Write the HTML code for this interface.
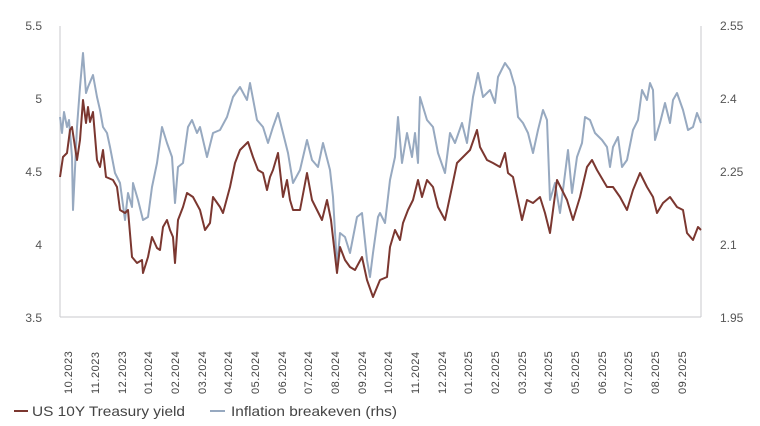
<!DOCTYPE html>
<html><head><meta charset="utf-8"><style>
html,body{margin:0;padding:0;background:#fff;}
svg{display:block;font-family:"Liberation Sans",sans-serif;}
</style></head><body>
<svg width="760" height="426" viewBox="0 0 760 426">
<g stroke="#c8cacd" stroke-width="1" fill="none">
<line x1="60" y1="26" x2="60" y2="317"/>
<line x1="60" y1="317" x2="701" y2="317"/>
<line x1="701" y1="26" x2="701" y2="317"/>
</g>
<g font-size="12" fill="#555" text-anchor="end">
<text x="42" y="30">5.5</text><text x="42" y="103">5</text><text x="42" y="176">4.5</text><text x="42" y="249">4</text><text x="42" y="322">3.5</text>
</g>
<g font-size="12" fill="#555" text-anchor="start">
<text x="720" y="30">2.55</text><text x="720" y="103">2.4</text><text x="720" y="176">2.25</text><text x="720" y="249">2.1</text><text x="720" y="322">1.95</text>
</g>
<g font-size="11" fill="#444" text-anchor="start" letter-spacing="0.5">
<text transform="translate(72,394) rotate(-90)">10.2023</text>
<text transform="translate(99,394) rotate(-90)">11.2023</text>
<text transform="translate(126,394) rotate(-90)">12.2023</text>
<text transform="translate(152,394) rotate(-90)">01.2024</text>
<text transform="translate(179,394) rotate(-90)">02.2024</text>
<text transform="translate(206,394) rotate(-90)">03.2024</text>
<text transform="translate(232,394) rotate(-90)">04.2024</text>
<text transform="translate(259,394) rotate(-90)">05.2024</text>
<text transform="translate(286,394) rotate(-90)">06.2024</text>
<text transform="translate(312,394) rotate(-90)">07.2024</text>
<text transform="translate(339,394) rotate(-90)">08.2024</text>
<text transform="translate(366,394) rotate(-90)">09.2024</text>
<text transform="translate(392,394) rotate(-90)">10.2024</text>
<text transform="translate(419,394) rotate(-90)">11.2024</text>
<text transform="translate(446,394) rotate(-90)">12.2024</text>
<text transform="translate(472,394) rotate(-90)">01.2025</text>
<text transform="translate(499,394) rotate(-90)">02.2025</text>
<text transform="translate(526,394) rotate(-90)">03.2025</text>
<text transform="translate(552,394) rotate(-90)">04.2025</text>
<text transform="translate(579,394) rotate(-90)">05.2025</text>
<text transform="translate(606,394) rotate(-90)">06.2025</text>
<text transform="translate(632,394) rotate(-90)">07.2025</text>
<text transform="translate(659,394) rotate(-90)">08.2025</text>
<text transform="translate(686,394) rotate(-90)">09.2025</text>
</g>
<polyline fill="none" stroke="#97a9c0" stroke-width="2" stroke-linejoin="round" points="60,117 62,133 64,112 67,127 69,120 72,157 73,210 77,127 80,87 83,53 86,93 88,87 93,75 97,97 100,110 103,127 107,133 110,147 115,173 120,183 125,220 128,193 132,207 133,183 138,200 143,220 148,217 152,187 157,163 162,127 167,143 172,157 175,203 178,167 183,163 188,127 192,120 197,133 200,127 207,157 213,133 220,130 227,117 233,97 240,87 247,100 250,83 257,120 263,127 268,143 273,127 278,113 283,133 288,153 293,183 300,170 307,140 312,160 318,167 323,143 330,170 333,197 337,267 340,233 345,237 350,253 357,217 362,213 367,260 370,277 373,253 378,217 380,213 385,223 390,180 395,157 398,117 402,163 407,133 412,157 415,133 418,163 420,97 427,120 433,127 438,153 445,173 450,133 455,143 462,123 467,143 473,97 478,73 483,97 490,90 495,103 498,77 505,63 510,70 515,87 518,117 523,123 528,133 533,153 538,130 543,110 547,120 550,200 555,183 560,213 563,190 568,150 572,193 577,157 582,143 585,117 590,120 595,133 602,140 607,147 610,167 613,147 618,137 622,167 627,160 633,130 638,120 642,90 647,100 650,83 653,90 655,140 660,123 665,103 670,123 673,100 677,93 683,110 688,130 693,127 697,113 701,123"/>
<polyline fill="none" stroke="#7b3730" stroke-width="2" stroke-linejoin="round" points="60,177 63,157 67,153 70,130 72,127 75,147 77,160 80,140 83,100 86,123 88,107 90,122 93,112 97,160 100,167 103,150 106,177 113,180 117,187 120,210 125,213 128,210 132,257 137,263 142,260 143,273 148,257 152,237 157,248 160,250 163,227 167,220 170,230 173,237 175,263 178,220 183,207 187,193 193,197 200,210 205,230 210,223 213,197 220,207 223,213 230,187 235,163 240,150 248,142 253,157 258,170 263,173 267,190 270,177 273,170 278,153 283,197 287,180 290,200 293,210 300,210 307,173 312,200 317,210 322,220 327,200 331,220 337,273 340,247 345,260 350,267 355,270 362,257 367,280 373,297 380,280 387,277 390,247 395,230 400,240 403,223 408,210 413,200 418,180 422,197 427,180 433,187 438,207 445,220 452,187 457,163 463,157 470,150 477,130 480,147 487,160 493,163 500,167 505,153 508,173 513,177 522,220 527,200 533,203 540,197 545,213 550,233 557,180 567,200 573,220 580,197 587,167 592,160 597,170 607,187 613,187 620,197 627,210 633,190 640,173 647,187 653,197 657,213 663,203 670,197 677,207 683,210 687,233 693,240 698,227 701,230"/>
<line x1="14" y1="411" x2="28" y2="411" stroke="#7b3730" stroke-width="2"/>
<text x="32" y="416" font-size="14" fill="#444" textLength="153" lengthAdjust="spacingAndGlyphs">US 10Y Treasury yield</text>
<line x1="210" y1="411" x2="225" y2="411" stroke="#97a9c0" stroke-width="2"/>
<text x="231" y="416" font-size="14" fill="#444" textLength="166" lengthAdjust="spacingAndGlyphs">Inflation breakeven (rhs)</text>
</svg>
</body></html>
